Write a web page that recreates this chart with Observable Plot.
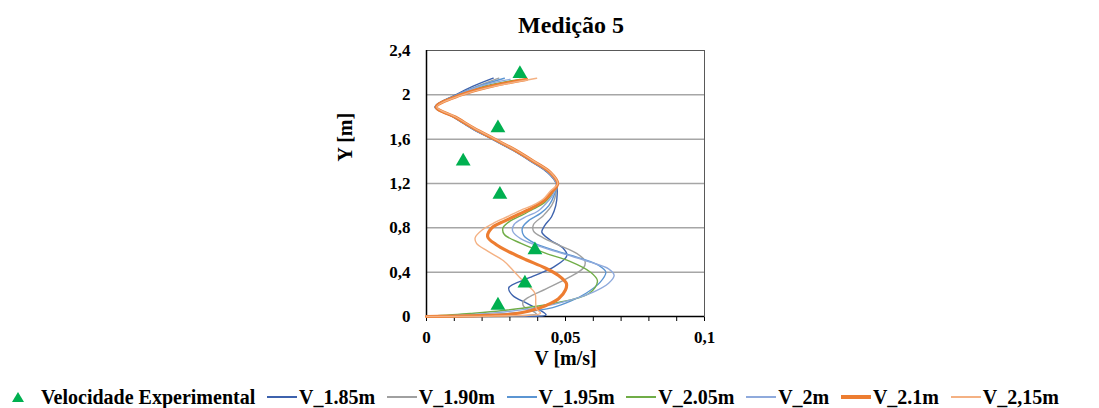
<!DOCTYPE html>
<html>
<head>
<meta charset="utf-8">
<script src="https://cdn.jsdelivr.net/npm/d3@7"></script>
<script src="https://cdn.jsdelivr.net/npm/@observablehq/plot@0.6"></script>
<style>
  body { margin: 0; background: #fff; }
  #wrap { width: 1099px; height: 408px; overflow: hidden; font-family: "Liberation Serif", Tinos, "Times New Roman", Times, "DejaVu Serif", serif; font-weight: bold; color: #000; }
  #title { height: 36px; line-height: 50px; font-size: 24px; text-align: center; padding-left: 43px; white-space: nowrap; overflow: visible; }
  #chart svg { display: block; }
  #legend { display: flex; align-items: center; height: 22px; line-height: 22px; padding-left: 12px; font-size: 20px; white-space: nowrap; }
  .item { display: flex; align-items: center; margin-right: 11.7px; }
  .sw { display: inline-block; width: 30px; margin-right: 2px; }
</style>
</head>
<body>
<div id="wrap">
  <div id="title">Medição 5</div>
  <div id="chart"></div>
  <div id="legend"></div>
</div>
<script>
// ---- data (v in m/s, y in m) ----
const expV = [0.0336, 0.0257, 0.0132, 0.0264, 0.039, 0.0354, 0.0257];
const expY = [2.19, 1.70, 1.40, 1.10, 0.60, 0.30, 0.10];

const V_185 = [[0,0],[0.030,0.003],[0.043,0.014],[0.041,0.055],[0.036,0.12],[0.031,0.19],[0.0296,0.26],[0.037,0.35],[0.046,0.45],[0.0505,0.55],[0.049,0.62],[0.0445,0.69],[0.0415,0.76],[0.0425,0.82],[0.045,0.9],[0.0465,1.0],[0.047,1.1],[0.0467,1.2],[0.0435,1.3],[0.0375,1.4],[0.031,1.5],[0.0235,1.6],[0.016,1.7],[0.0095,1.8],[0.003,1.89],[0.0105,2.0],[0.017,2.08],[0.024,2.15]];
const V_190 = [[0,0],[0.030,0.004],[0.0395,0.025],[0.038,0.05],[0.035,0.09],[0.0347,0.13],[0.0365,0.17],[0.043,0.25],[0.0514,0.355],[0.0565,0.44],[0.057,0.50],[0.054,0.57],[0.048,0.64],[0.042,0.71],[0.0385,0.77],[0.0385,0.83],[0.042,0.91],[0.045,1.0],[0.0465,1.1],[0.0467,1.2],[0.0437,1.3],[0.0377,1.4],[0.0312,1.5],[0.0237,1.6],[0.0162,1.7],[0.0097,1.8],[0.0032,1.89],[0.011,2.0],[0.0185,2.08],[0.026,2.15]];
const V_195 = [[0,0],[0.015,0.01],[0.0336,0.036],[0.0454,0.08],[0.052,0.14],[0.0574,0.21],[0.0625,0.31],[0.0645,0.40],[0.062,0.46],[0.056,0.52],[0.047,0.59],[0.039,0.66],[0.035,0.73],[0.0345,0.80],[0.037,0.87],[0.041,0.93],[0.044,1.0],[0.046,1.1],[0.0468,1.2],[0.0438,1.3],[0.0378,1.4],[0.0313,1.5],[0.0238,1.6],[0.0163,1.7],[0.0098,1.8],[0.0032,1.89],[0.011,2.0],[0.019,2.08],[0.028,2.15]];
const V_205 = [[0,0],[0.0157,0.027],[0.0275,0.054],[0.0454,0.117],[0.0586,0.21],[0.0615,0.32],[0.059,0.40],[0.0514,0.50],[0.043,0.57],[0.034,0.66],[0.028,0.74],[0.0275,0.80],[0.030,0.86],[0.034,0.91],[0.0385,0.97],[0.0425,1.03],[0.045,1.1],[0.047,1.2],[0.0441,1.3],[0.0381,1.4],[0.0316,1.5],[0.0241,1.6],[0.0166,1.7],[0.0100,1.8],[0.0034,1.89],[0.012,2.0],[0.021,2.08],[0.0336,2.14]];
const V_2 = [[0,0],[0.012,0.012],[0.025,0.035],[0.040,0.08],[0.052,0.15],[0.060,0.22],[0.0655,0.30],[0.0675,0.37],[0.0655,0.43],[0.059,0.49],[0.050,0.56],[0.041,0.63],[0.034,0.70],[0.031,0.77],[0.0315,0.83],[0.035,0.89],[0.040,0.95],[0.043,1.02],[0.0455,1.1],[0.0468,1.2],[0.0439,1.3],[0.0379,1.4],[0.0314,1.5],[0.0239,1.6],[0.0164,1.7],[0.0099,1.8],[0.0033,1.89],[0.0115,2.0],[0.0195,2.08],[0.030,2.14]];
const V_21 = [[0,0],[0.015,0.006],[0.030,0.02],[0.037,0.05],[0.043,0.10],[0.0475,0.16],[0.050,0.24],[0.0503,0.30],[0.0475,0.37],[0.0425,0.44],[0.036,0.51],[0.030,0.58],[0.025,0.65],[0.022,0.72],[0.0235,0.80],[0.028,0.86],[0.033,0.92],[0.038,0.98],[0.0425,1.05],[0.045,1.12],[0.0472,1.2],[0.0445,1.3],[0.0385,1.4],[0.032,1.5],[0.0245,1.6],[0.017,1.7],[0.0103,1.8],[0.0035,1.89],[0.0125,2.0],[0.022,2.07],[0.036,2.14]];
const V_215 = [[0,0],[0.025,0.006],[0.041,0.03],[0.0395,0.07],[0.0393,0.12],[0.039,0.21],[0.036,0.29],[0.034,0.34],[0.031,0.42],[0.0276,0.505],[0.022,0.59],[0.018,0.66],[0.0175,0.71],[0.020,0.78],[0.024,0.84],[0.029,0.90],[0.034,0.96],[0.038,1.0],[0.042,1.06],[0.0445,1.13],[0.0472,1.2],[0.0447,1.3],[0.0387,1.4],[0.0322,1.5],[0.0247,1.6],[0.0172,1.7],[0.0105,1.8],[0.0037,1.89],[0.013,2.0],[0.023,2.07],[0.0396,2.15]];

const seriesNames = ["V_1.85m", "V_1.90m", "V_1.95m", "V_2.05m", "V_2m", "V_2.1m", "V_2,15m"];
const seriesData = [V_185, V_190, V_195, V_205, V_2, V_21, V_215];
const seriesColors = ["#3d62ad", "#a0a0a0", "#5b95d2", "#70ad47", "#8faadc", "#ed7d31", "#f4b183"];
const seriesWidths = [1.4, 1.4, 1.4, 1.4, 1.4, 3.2, 1.4];
const expName = "Velocidade Experimental";
const expColor = "#00b050";

const yTicks = [0, 0.4, 0.8, 1.2, 1.6, 2.0, 2.4];
const yGrid = [0.4, 0.8, 1.2, 1.6, 2.0];
const xMinor = [0, 0.01, 0.02, 0.03, 0.04, 0.05, 0.06, 0.07, 0.08, 0.09, 0.1];
const xLabeled = [0, 0.05, 0.1];
const xTitle = "V [m/s]";
const yTitle = "Y [m]";

const FONT = "'Liberation Serif', Tinos, 'Times New Roman', Times, 'DejaVu Serif', serif";
const fmt = d => String(+d.toFixed(3)).replace(".", ",");
const expRows = expV.map((v, i) => ({v, y: expY[i]}));

const lineMarks = seriesData.map((pts, i) =>
  Plot.line(pts.map(([v, y]) => ({v, y})), {
    x: "v", y: "y", stroke: seriesColors[i], strokeWidth: seriesWidths[i], curve: "catmull-rom"
  })
);

const chart = Plot.plot({
  width: 1099, height: 350,
  marginLeft: 426, marginRight: 395, marginTop: 14, marginBottom: 70,
  style: { fontFamily: FONT, fontWeight: "bold", fontSize: "17px", color: "#000", background: "transparent", overflow: "visible" },
  x: { domain: [0, 0.1], ticks: xMinor, tickSize: 5, tickPadding: 9,
       tickFormat: d => xLabeled.some(t => Math.abs(t - d) < 1e-9) ? fmt(d) : "", label: null },
  y: { domain: [0, 2.4], ticks: yTicks, tickSize: 0, tickPadding: 16, tickFormat: fmt, label: null },
  marks: [
    Plot.ruleY(yGrid, { stroke: "#a6a6a6", strokeWidth: 1.5 }),
    Plot.frame({ stroke: "#595959", strokeWidth: 1 }),
    Plot.ruleX([0], { stroke: "#000", strokeWidth: 1.5 }),
    Plot.ruleY([0], { stroke: "#000", strokeWidth: 1.5 }),
    ...lineMarks,
    Plot.dot(expRows, { x: "v", y: "y", symbol: "triangle", r: 5.5, fill: expColor, stroke: "none" }),
    Plot.text([xTitle], { text: d => d, frameAnchor: "bottom", dy: 42, fontSize: 20, fontWeight: "bold", fontFamily: FONT, lineAnchor: "middle" }),
    Plot.text([yTitle], { text: d => d, frameAnchor: "left", dx: -81, dy: -22, rotate: -90, fontSize: 20, fontWeight: "bold", fontFamily: FONT, lineAnchor: "middle" })
  ]
});
document.getElementById("chart").appendChild(chart);

// ---- legend ----
const legend = document.getElementById("legend");
{
  const it = document.createElement("div");
  it.className = "item";
  it.innerHTML = `<svg width="12" height="10" style="margin-right:17px;display:block"><polygon points="6,0 12,10 0,10" fill="${expColor}"/></svg><span>${expName}</span>`;
  legend.appendChild(it);
}
seriesNames.forEach((name, i) => {
  const it = document.createElement("div");
  it.className = "item";
  const sw = document.createElement("span");
  sw.className = "sw";
  sw.style.height = (seriesWidths[i] > 2 ? 4 : 2) + "px";
  sw.style.background = seriesColors[i];
  const tx = document.createElement("span");
  tx.textContent = name;
  it.appendChild(sw);
  it.appendChild(tx);
  legend.appendChild(it);
});
</script>
</body>
</html>
